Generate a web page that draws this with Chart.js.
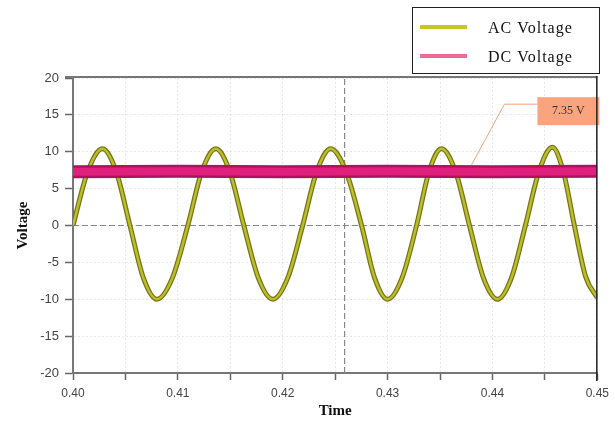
<!DOCTYPE html>
<html>
<head>
<meta charset="utf-8">
<script src="https://cdn.jsdelivr.net/npm/chart.js@4"></script>
<style>
  html, body { margin:0; padding:0; background:#fff; }
  #wrap { width:615px; height:424px; }
</style>
</head>
<body>
<div id="wrap"><canvas id="myChart" width="615" height="424"></canvas></div>
<script>
// values
const acTime = [0.4000, 0.4014, 0.40281, 0.40412, 0.40543, 0.40671, 0.40800, 0.40948, 0.41095,
  0.41228, 0.41362, 0.41495, 0.41629, 0.41767, 0.41905, 0.42048, 0.42190,
  0.42324, 0.42457, 0.42604, 0.42752, 0.42876, 0.43000, 0.43138, 0.43276,
  0.43395, 0.43514, 0.43648, 0.43781, 0.43914, 0.44048, 0.44181, 0.44314,
  0.44443, 0.44571, 0.44676, 0.44781, 0.44890, 0.45000];
const acVolt = [0, 7.3, 10.4, 7.3, 0, -7.1, -10.0, -7.1, 0,
  7.3, 10.4, 7.3, 0, -7.1, -10.0, -7.1, 0,
  7.3, 10.4, 7.3, 0, -7.1, -10.0, -7.1, 0,
  7.3, 10.4, 7.3, 0, -7.1, -10.0, -7.1, 0,
  7.3, 10.6, 7.3, 0, -7.0, -9.8];
const dcTime = [0.400, 0.410, 0.420, 0.430, 0.440, 0.450];
const dcVolt = [7.3, 7.35, 7.3, 7.35, 7.3, 7.35];
const cursorTime = 0.4259;
const dcLabel = '7.35 V';
const labelAt = [0.4380, 8.2];
const labelBox = [0.44429, 17.4];
const seriesNames = ['AC Voltage', 'DC Voltage'];

const toPts = (xs, ys) => xs.map((x, i) => ({x: x, y: ys[i]}));
const acPts = toPts(acTime, acVolt);
const dcPts = toPts(dcTime, dcVolt);

const plotFrame = {
  id: 'plotFrame',
  afterDatasetsDraw(chart) {
    const c = chart.ctx, a = chart.chartArea;
    const xs = chart.scales.x, ys = chart.scales.y;
    c.save();
    // callout for the dc level
    const px = xs.getPixelForValue(labelAt[0]), py = ys.getPixelForValue(labelAt[1]);
    const bx = xs.getPixelForValue(labelBox[0]), by = ys.getPixelForValue(labelBox[1]);
    c.strokeStyle = '#f3a27a';
    c.lineWidth = 1;
    c.beginPath();
    c.moveTo(px, py);
    c.lineTo(bx - 33, by + 7);
    c.lineTo(bx, by + 7);
    c.stroke();
    c.fillStyle = '#f9a47e';
    c.fillRect(bx, by, a.right - bx + 2, 28);
    c.fillStyle = '#333';
    c.font = '12px "Liberation Serif"';
    c.textAlign = 'center';
    c.textBaseline = 'middle';
    c.fillText(dcLabel, bx + 31, by + 14);
    // frame top / right
    c.strokeStyle = '#777';
    c.lineWidth = 2;
    c.beginPath();
    c.moveTo(a.left - 8, a.top - 1);
    c.lineTo(a.right, a.top - 1);
    c.stroke();
    c.strokeStyle = '#222';
    c.lineWidth = 1.5;
    c.beginPath();
    c.moveTo(a.right - 0.5, a.top - 2);
    c.lineTo(a.right - 0.5, a.bottom + 8);
    c.stroke();
    c.restore();
  },
  afterDraw(chart) {
    const c = chart.ctx;
    c.save();
    // legend box
    c.fillStyle = '#fff';
    c.fillRect(412, 7, 188, 67);
    c.strokeStyle = '#222';
    c.lineWidth = 1;
    c.strokeRect(412.5, 7.5, 187, 66);
    const cols = ['#c6c626', '#ee6a98'];
    c.font = '16px "Liberation Serif"';
    c.letterSpacing = '1px';
    c.textBaseline = 'middle';
    c.textAlign = 'left';
    seriesNames.forEach((n, i) => {
      const y = 27 + i * 29;
      c.strokeStyle = cols[i];
      c.lineWidth = 4;
      c.beginPath();
      c.moveTo(420, y);
      c.lineTo(467, y);
      c.stroke();
      c.fillStyle = '#111';
      c.fillText(n, 488, y + 2);
    });
    c.restore();
  }
};

const ctx = document.querySelector('#myChart');
const myChart = new Chart(ctx, {
  type: 'line',
  data: {
    datasets: [
      {
        label: 'zero', order: 6,
        data: [{x: 0.40, y: 0}, {x: 0.45, y: 0}],
        borderColor: '#888', borderWidth: 1.2, borderDash: [6, 3],
        pointRadius: 0
      },
      {
        label: 'cursor', order: 5,
        data: [{x: cursorTime, y: -20}, {x: cursorTime, y: 20}],
        borderColor: '#888', borderWidth: 1.2, borderDash: [6, 3],
        pointRadius: 0
      },
      {
        label: seriesNames[0] + ' edge', order: 4,
        data: acPts,
        borderColor: '#75751a', borderWidth: 5,
        pointRadius: 0, cubicInterpolationMode: 'monotone'
      },
      {
        label: seriesNames[0], order: 3,
        data: acPts,
        borderColor: '#bdbd2a', borderWidth: 2.5,
        pointRadius: 0, cubicInterpolationMode: 'monotone'
      },
      {
        label: seriesNames[1] + ' edge', order: 2,
        data: dcPts,
        borderColor: '#b0105e', borderWidth: 13,
        pointRadius: 0
      },
      {
        label: seriesNames[1], order: 1,
        data: dcPts,
        borderColor: '#e0207c', borderWidth: 8,
        pointRadius: 0
      }
    ]
  },
  options: {
    responsive: false,
    animation: false,
    layout: { padding: { top: 78, right: 17, left: 0, bottom: 0 } },
    plugins: { legend: { display: false }, tooltip: { enabled: false } },
    scales: {
      x: {
        type: 'linear', min: 0.40, max: 0.45,
        afterFit: s => { s.height = 51; },
        ticks: {
          stepSize: 0.005, autoSkip: false, maxRotation: 0, padding: 6,
          color: '#444', font: { family: 'Liberation Sans', size: 12 },
          callback: v => Math.abs(Math.round(v * 100) - v * 100) < 1e-6 ? v.toFixed(2) : ''
        },
        grid: { color: 'rgba(0,0,0,0.09)', tickColor: '#666', tickLength: 7, tickWidth: 1.5 },
        border: { color: '#777', width: 2, dash: [2, 2] },
        title: {
          display: true, text: 'Time', color: '#111',
          font: { family: 'Liberation Serif', size: 15, weight: 'bold' },
          padding: { top: 2, bottom: 4 }
        }
      },
      y: {
        min: -20, max: 20,
        afterFit: s => { s.width = 73; },
        ticks: {
          stepSize: 5, padding: 6, color: '#444',
          font: { family: 'Liberation Sans', size: 13 }
        },
        grid: { color: 'rgba(0,0,0,0.09)', tickColor: '#666', tickLength: 8, tickWidth: 1.5 },
        border: { color: '#777', width: 2, dash: [2, 2] },
        title: {
          display: true, text: 'Voltage', color: '#111',
          font: { family: 'Liberation Serif', size: 15, weight: 'bold' },
          padding: { top: 14, bottom: 0 }
        }
      }
    }
  },
  plugins: [plotFrame]
});
</script>
</body>
</html>
